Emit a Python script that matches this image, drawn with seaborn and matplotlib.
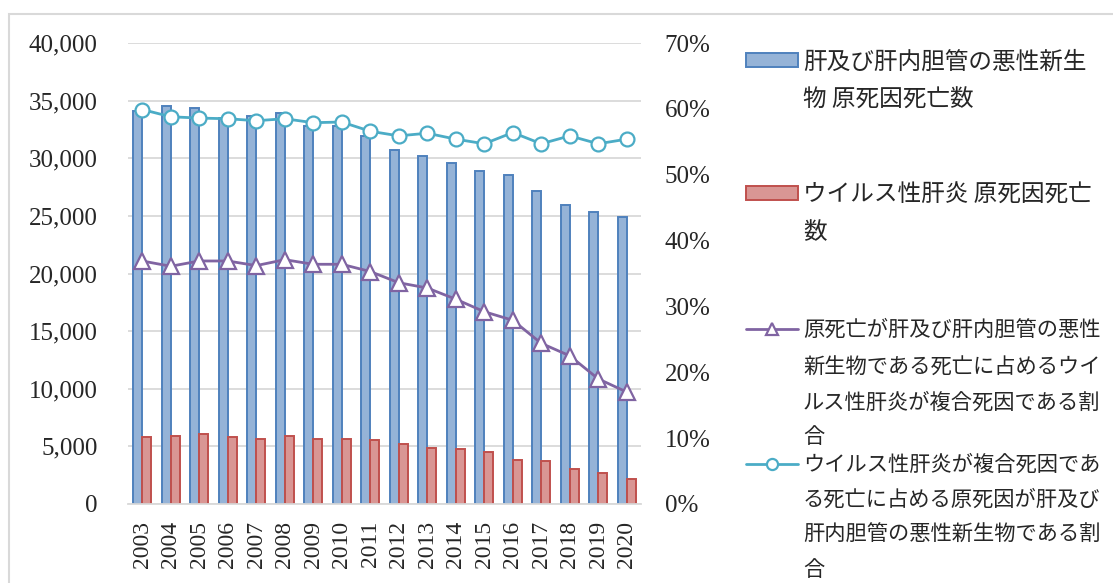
import numpy as np
import pandas as pd
import matplotlib
matplotlib.use("Agg")
import matplotlib.pyplot as plt
import seaborn as sns
from matplotlib.patches import Rectangle, Patch
from matplotlib.lines import Line2D
from matplotlib.ticker import FuncFormatter, MultipleLocator

years = [str(y) for y in range(2003, 2021)]
liver_cancer_deaths = [34100, 34530, 34330, 33500, 33660, 33900, 32800, 32820, 31930,
                       30680, 30200, 29560, 28920, 28570, 27130, 25940, 25310, 24880]
viral_hepatitis_deaths = [5790, 5900, 6045, 5810, 5670, 5870, 5670, 5610, 5580,
                          5230, 4885, 4740, 4510, 3845, 3730, 3065, 2660, 2195]
hep_share_of_liver = [36.9, 36.1, 36.9, 36.9, 36.2, 37.1, 36.4, 36.4, 35.3,
                      33.6, 32.8, 31.1, 29.2, 27.9, 24.4, 22.5, 19.0, 17.0]
liver_share_of_hep = [59.9, 58.8, 58.6, 58.5, 58.2, 58.5, 57.9, 58.0, 56.6,
                      55.9, 56.3, 55.4, 54.7, 56.4, 54.7, 55.9, 54.7, 55.4]

label_liver = "肝及び肝内胆管の悪性新生物 原死因死亡数"
label_hep = "ウイルス性肝炎 原死因死亡数"
label_share1 = "原死亡が肝及び肝内胆管の悪性新生物である死亡に占めるウイルス性肝炎が複合死因である割合"
label_share2 = "ウイルス性肝炎が複合死因である死亡に占める原死因が肝及び肝内胆管の悪性新生物である割合"

legend_lines = [
    ["肝及び肝内胆管の悪性新生", "物 原死因死亡数"],
    ["ウイルス性肝炎 原死因死亡", "数"],
    ["原死亡が肝及び肝内胆管の悪性", "新生物である死亡に占めるウイ", "ルス性肝炎が複合死因である割", "合"],
    ["ウイルス性肝炎が複合死因であ", "る死亡に占める原死因が肝及び", "肝内胆管の悪性新生物である割", "合"],
]

BLUE_FILL, BLUE_EDGE = "#95b3d7", "#4f81bd"
RED_FILL, RED_EDGE = "#d99694", "#c0504d"
PURPLE, CYAN = "#8064a2", "#4bacc6"
GRID = "#d9d9d9"

sns.set_style("white")
plt.rcParams["font.family"] = ["Liberation Serif", "Noto Sans CJK JP", "DejaVu Sans"]

W, H = 1113, 583
fig = plt.figure(figsize=(W / 100, H / 100), dpi=100)
ax = fig.add_axes([128 / W, 1 - 504 / H, (641 - 128) / W, (504 - 43) / H])

df = pd.DataFrame({
    "year": years * 2,
    "value": liver_cancer_deaths + viral_hepatitis_deaths,
    "series": [label_liver] * len(years) + [label_hep] * len(years),
})
sns.barplot(data=df, x="year", y="value", hue="series", order=years,
            hue_order=[label_liver, label_hep], palette=[BLUE_FILL, RED_FILL],
            saturation=1, width=0.62, linewidth=1.4, legend=False, ax=ax)
for cont, ec in zip(ax.containers, [BLUE_EDGE, RED_EDGE]):
    for bar in cont:
        bar.set_edgecolor(ec)

ax.set_ylim(0, 40000)
ax.yaxis.set_major_locator(MultipleLocator(5000))
ax.yaxis.set_major_formatter(FuncFormatter(lambda v, p: f"{int(v):,}"))
ax.yaxis.grid(True, color=GRID, linewidth=1.3)
ax.set_axisbelow(True)
ax.set_xlabel("")
ax.set_ylabel("")
for s in ["left", "right", "top"]:
    ax.spines[s].set_visible(False)
ax.spines["bottom"].set_color(GRID)
ax.spines["bottom"].set_linewidth(1.3)
ax.tick_params(axis="y", length=0, pad=22, labelsize=18)
ax.tick_params(axis="x", length=0, pad=12, labelsize=17, labelrotation=90)

ax2 = ax.twinx()
sns.pointplot(x=years, y=hep_share_of_liver, order=years, color=PURPLE, markers="^",
              errorbar=None, ax=ax2, markersize=11, markerfacecolor="white",
              markeredgecolor=PURPLE, markeredgewidth=1.6, linewidth=2)
sns.pointplot(x=years, y=liver_share_of_hep, order=years, color=CYAN, markers="o",
              errorbar=None, ax=ax2, markersize=10, markerfacecolor="white",
              markeredgecolor=CYAN, markeredgewidth=1.6, linewidth=2)
ax2.set_ylim(0, 70)
ax2.yaxis.set_major_locator(MultipleLocator(10))
ax2.yaxis.set_major_formatter(FuncFormatter(lambda v, p: f"{int(round(v))}%"))
ax2.set_ylabel("")
ax2.grid(False)
for s in ["left", "right", "top", "bottom"]:
    ax2.spines[s].set_visible(False)
ax2.tick_params(axis="y", length=0, pad=17, labelsize=18)
ax.set_xlim(-0.5, len(years) - 0.5)

# Outer frame
fig.patches.append(Rectangle((9 / W, -0.1), 1.2, 1 - 14 / H + 0.1, transform=fig.transFigure,
                             fill=False, edgecolor=GRID, linewidth=1.5))

# Legend
handles = [
    Patch(facecolor=BLUE_FILL, edgecolor=BLUE_EDGE, linewidth=1.4),
    Patch(facecolor=RED_FILL, edgecolor=RED_EDGE, linewidth=1.4),
    Line2D([], [], color=PURPLE, linewidth=2, marker="^", markersize=9,
           markerfacecolor="white", markeredgecolor=PURPLE, markeredgewidth=1.6),
    Line2D([], [], color=CYAN, linewidth=2, marker="o", markersize=8,
           markerfacecolor="white", markeredgecolor=CYAN, markeredgewidth=1.6),
]
line_y = [[62, 100], [195, 233], [330, 368, 403, 437], [465, 500, 535, 570]]
sizes = [17, 17, 15.3, 15.3]
cjk = ["Noto Sans CJK JP", "DejaVu Sans"]
for h, lines, ys, fs in zip(handles, legend_lines, line_y, sizes):
    leg = fig.legend(handles=[h], labels=[lines[0]], loc="center left",
                     bbox_to_anchor=(746 / W, 1 - ys[0] / H), frameon=False,
                     borderpad=0, borderaxespad=0, handlelength=52 / (fs * 100 / 72),
                     handleheight=0.55, handletextpad=5 / (fs * 100 / 72),
                     prop={"family": cjk, "size": fs})
    for ln, yy in zip(lines[1:], ys[1:]):
        fig.text(803 / W, 1 - yy / H, ln, ha="left", va="center", fontsize=fs, family=cjk)

fig.savefig("out.png", dpi=100)
